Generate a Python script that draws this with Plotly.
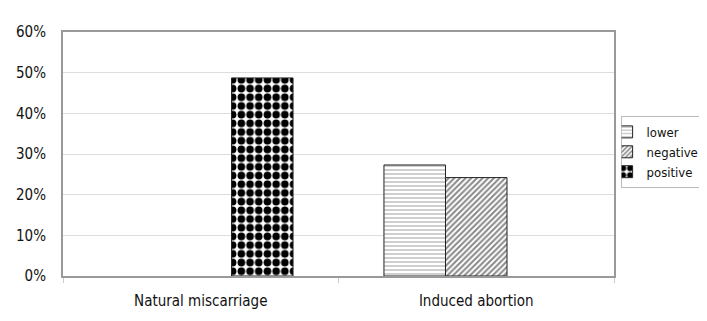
import plotly.graph_objects as go

categories = ["Natural miscarriage", "Induced abortion"]
lower = [None, 0.273]
negative = [None, 0.242]
positive = [0.487, None]
y_ticks = [0, 0.1, 0.2, 0.3, 0.4, 0.5, 0.6]

FONT = "DejaVu Sans Condensed, DejaVu Sans, sans-serif"

fig = go.Figure()
fig.add_bar(name="lower", x=categories, y=lower,
            marker=dict(color="white", line=dict(color="#222", width=1),
                        pattern=dict(shape="-", fgcolor="#888", bgcolor="white",
                                     size=4, solidity=0.4)))
fig.add_bar(name="negative", x=categories, y=negative,
            marker=dict(color="white", line=dict(color="#222", width=1),
                        pattern=dict(shape="/", fgcolor="#111", bgcolor="white",
                                     size=4, solidity=0.5)))
fig.add_bar(name="positive", x=categories, y=positive,
            marker=dict(color="white", line=dict(color="#222", width=1),
                        pattern=dict(shape=".", fgcolor="#000", bgcolor="white",
                                     size=8.7, solidity=0.6, fgopacity=1)))

# page has an 8px body margin; figure coordinates are offset accordingly
fig.update_layout(
    width=707, height=321,
    margin=dict(l=55, r=101, t=24, b=53, autoexpand=False),
    paper_bgcolor="white", plot_bgcolor="white",
    barmode="group", bargap=0.33, bargroupgap=0,
    font=dict(family=FONT, size=15, color="#111"),
    showlegend=True,
    legend=dict(x=1.012, y=0.656, xanchor="left", yanchor="top",
                bordercolor="#bbb", borderwidth=1, bgcolor="white",
                font=dict(size=13), tracegroupgap=0, itemwidth=30,
                indentation=-15),
    xaxis=dict(showline=True, linecolor="#999", linewidth=2, mirror=True,
               ticks="outside", tickson="boundaries", ticklen=5, tickcolor="#ccc",
               ticklabelstandoff=10, showgrid=False),
    yaxis=dict(range=[0, 0.6], tickvals=y_ticks, tickformat=".0%",
               showline=True, linecolor="#999", linewidth=2, mirror=True,
               gridcolor="#ddd", gridwidth=1, ticks="", ticklabelstandoff=12,
               zeroline=False),
)

fig.add_shape(type="rect", xref="paper", yref="paper",
              x0=-0.1016, x1=1.3, y0=-0.3, y1=1.1025,
              line=dict(color="#ddd", width=1), layer="below")

fig.write_html("out.html")
